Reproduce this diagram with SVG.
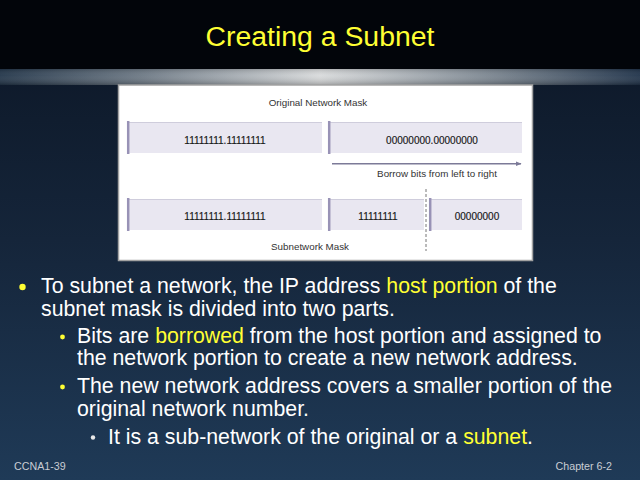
<svg xmlns="http://www.w3.org/2000/svg" width="640" height="480" viewBox="0 0 640 480">
<defs>
<linearGradient id="bg" x1="0" y1="0" x2="0" y2="1">
<stop offset="0" stop-color="#0b1524"/>
<stop offset="0.5" stop-color="#15253a"/>
<stop offset="1" stop-color="#1f3a57"/>
</linearGradient>
<linearGradient id="band" x1="0" y1="0" x2="1" y2="0">
<stop offset="0" stop-color="#23364a"/>
<stop offset="0.22" stop-color="#6c7884"/>
<stop offset="0.5" stop-color="#d8dadb"/>
<stop offset="0.78" stop-color="#76818c"/>
<stop offset="1" stop-color="#20334a"/>
</linearGradient>
<linearGradient id="bandShade" x1="0" y1="0" x2="0" y2="1">
<stop offset="0" stop-color="#000" stop-opacity="0.15"/>
<stop offset="0.4" stop-color="#fff" stop-opacity="0.05"/>
<stop offset="1" stop-color="#000" stop-opacity="0.25"/>
</linearGradient>
<marker id="arr" viewBox="0 0 10 10" refX="9" refY="5" markerWidth="6" markerHeight="6" markerUnits="userSpaceOnUse" orient="auto">
<path d="M0,1 L10,5 L0,9 z" fill="#7c7a98"/>
</marker>
<style>
.box{fill:#e9e7f1;}
.boxtop{stroke:#cfcddc;stroke-width:1.2;}
.boxleft{stroke:#9892b6;stroke-width:2.5;}
.bt{font-family:"Liberation Sans",Arial,sans-serif;font-size:10px;fill:#161616;text-anchor:middle;stroke:#161616;stroke-width:0.15;}
.lbl{font-family:"Liberation Sans",Arial,sans-serif;font-size:9.8px;fill:#333;text-anchor:middle;}
.body{font-family:"Liberation Sans",Arial,sans-serif;font-size:21.3px;fill:#ffffff;}
.hl{fill:#ffff33;}
.foot{font-family:"Liberation Sans",Arial,sans-serif;font-size:10.7px;fill:#c9cdd4;}
</style>
</defs>

<rect x="0" y="0" width="640" height="480" fill="url(#bg)"/>
<rect x="0" y="0" width="640" height="69" fill="#02050a"/>
<rect x="0" y="69" width="640" height="16" fill="url(#band)"/>
<rect x="0" y="69" width="640" height="16" fill="url(#bandShade)"/>

<text x="320" y="46" text-anchor="middle" font-family="'Liberation Sans',Arial,sans-serif" font-size="28.4px" fill="#ffff33">Creating a Subnet</text>

<g id="panel">
<rect x="118.5" y="85" width="414" height="175.5" fill="#ffffff" stroke="#a3a3a3" stroke-width="1.5"/>
<text class="lbl" x="318" y="106">Original Network Mask</text>
<text class="lbl" x="437" y="177">Borrow bits from left to right</text>
<text class="lbl" x="310" y="249.5">Subnetwork Mask</text>
</g>

<g id="orig-network">
<rect class="box" x="127" y="122" width="195" height="31"/>
<line class="boxtop" x1="127" y1="122.5" x2="322" y2="122.5"/>
<line class="boxleft" x1="128.2" y1="121" x2="128.2" y2="154"/>
<text class="bt" x="225" y="143.5">11111111.11111111</text>
</g>
<g id="orig-host">
<rect class="box" x="328" y="122" width="194" height="31"/>
<line class="boxtop" x1="328" y1="122.5" x2="522" y2="122.5"/>
<line class="boxleft" x1="329.2" y1="121" x2="329.2" y2="154"/>
<text class="bt" x="432" y="143.5">00000000.00000000</text>
</g>
<g id="sub-network">
<rect class="box" x="127" y="199" width="195" height="31"/>
<line class="boxtop" x1="127" y1="199.5" x2="322" y2="199.5"/>
<line class="boxleft" x1="128.2" y1="198" x2="128.2" y2="231"/>
<text class="bt" x="225" y="220">11111111.11111111</text>
</g>
<g id="sub-borrowed">
<rect class="box" x="328" y="199" width="96" height="31"/>
<line class="boxtop" x1="328" y1="199.5" x2="424" y2="199.5"/>
<line class="boxleft" x1="329.2" y1="198" x2="329.2" y2="231"/>
<text class="bt" x="378" y="220">11111111</text>
</g>
<g id="sub-host">
<rect class="box" x="429" y="199" width="93" height="31"/>
<line class="boxtop" x1="429" y1="199.5" x2="522" y2="199.5"/>
<line class="boxleft" x1="430.2" y1="198" x2="430.2" y2="231"/>
<text class="bt" x="477" y="220">00000000</text>
</g>

<g id="connectors">
<line x1="332" y1="163.7" x2="521" y2="163.7" stroke="#7c7a98" stroke-width="1.5" marker-end="url(#arr)"/>
<line x1="426" y1="189" x2="426" y2="251" stroke="#777" stroke-width="1" stroke-dasharray="3,2"/>
</g>

<g id="bullets">
<circle cx="22.5" cy="287" r="3.2" fill="#ffff33"/>
<text class="body" x="41" y="293">To subnet a network, the IP address <tspan class="hl">host portion</tspan> of the</text>
<text class="body" x="41" y="316">subnet mask is divided into two parts.</text>
<circle cx="62.5" cy="337" r="2.4" fill="#ffff33"/>
<text class="body" x="77" y="343">Bits are <tspan class="hl">borrowed</tspan> from the host portion and assigned to</text>
<text class="body" x="77" y="365">the network portion to create a new network address.</text>
<circle cx="62.5" cy="387" r="2.4" fill="#ffff33"/>
<text class="body" x="77" y="393">The new network address covers a smaller portion of the</text>
<text class="body" x="77" y="416">original network number.</text>
<circle cx="93" cy="437.5" r="2.2" fill="#e8e8e8"/>
<text class="body" x="108" y="444">It is a sub-network of the original or a <tspan class="hl">subnet</tspan>.</text>
</g>

<text class="foot" x="14" y="470">CCNA1-39</text>
<text class="foot" x="612" y="470" text-anchor="end">Chapter 6-2</text>
</svg>
